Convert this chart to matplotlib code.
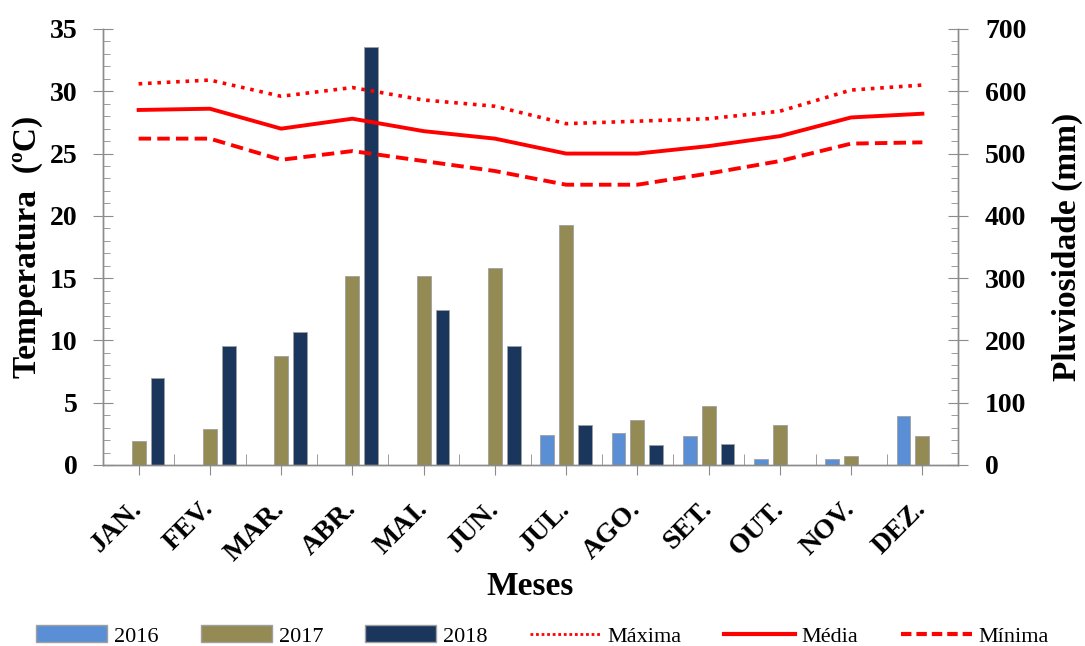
import numpy as np
import matplotlib
matplotlib.use("Agg")
import matplotlib.pyplot as plt
import matplotlib.patches as mpatches
import matplotlib.lines as mlines
from matplotlib.ticker import MultipleLocator, FixedLocator

plt.rcParams["font.family"] = ["Liberation Serif", "DejaVu Serif"]

# ── Data ──────────────────────────────────────────────────────────────────────
meses = ["JAN.", "FEV.", "MAR.", "ABR.", "MAI.", "JUN.",
         "JUL.", "AGO.", "SET.", "OUT.", "NOV.", "DEZ."]

chuva_2016 = [0, 0, 0, 0, 0, 0, 48, 52, 46, 9, 9, 78]
chuva_2017 = [39, 57, 175, 303, 303, 316, 386, 72, 95, 64, 14, 46]
chuva_2018 = [139, 191, 214, 671, 249, 191, 64, 32, 34, 0, 0, 0]

t_max = [30.6, 30.9, 29.6, 30.3, 29.3, 28.8, 27.4, 27.6, 27.8, 28.4, 30.1, 30.5]
t_med = [28.5, 28.6, 27.0, 27.8, 26.8, 26.2, 25.0, 25.0, 25.6, 26.4, 27.9, 28.2]
t_min = [26.2, 26.2, 24.5, 25.2, 24.4, 23.6, 22.5, 22.5, 23.4, 24.4, 25.8, 25.9]

C16, C17, C18 = "#5a8fd6", "#948a54", "#1b365d"
RED = "#ff0000"
GREY = "#8c8c8c"
EDGE = "#a0a0a0"

# ── Figure ────────────────────────────────────────────────────────────────────
fig = plt.figure(figsize=(10.85, 6.46), dpi=100)
ax = fig.add_axes([103 / 1085, 181 / 646, 855 / 1085, 436 / 646])
ax2 = ax.twinx()
ax2.set_zorder(ax.get_zorder() - 1)   # rainfall bars behind temperature lines
ax.patch.set_visible(False)

x = np.arange(len(meses))
w = 0.195
off = 0.265
bar_kw = dict(width=w, edgecolor=EDGE, linewidth=0.6)
ax2.bar(x - off, chuva_2016, color=C16, **bar_kw)
ax2.bar(x, chuva_2017, color=C17, **bar_kw)
ax2.bar(x + off, chuva_2018, color=C18, **bar_kw)

ax.plot(x, t_max, color=RED, lw=2.6, ls=(0, (1, 1.6)))
ax.plot(x, t_med, color=RED, lw=2.8, ls="-")
ax.plot(x, t_min, color=RED, lw=2.8, ls=(0, (3.2, 1.6)))

# axes limits and ticks
ax.set_xlim(-0.5, 11.5)
ax.set_ylim(0, 35)
ax2.set_ylim(0, 700)
ax.yaxis.set_major_locator(MultipleLocator(5))
ax.yaxis.set_minor_locator(MultipleLocator(1))
ax2.yaxis.set_major_locator(MultipleLocator(100))
ax2.yaxis.set_minor_locator(MultipleLocator(20))
ax.set_xticks(x)
ax.xaxis.set_minor_locator(FixedLocator(np.arange(0.5, 11, 1)))

for a in (ax, ax2):
    for s in a.spines.values():
        s.set_color(GREY)
        s.set_linewidth(1.0)
    a.spines["top"].set_visible(False)

ax.tick_params(axis="y", which="major", direction="inout", length=15,
               color=GREY, labelsize=20, pad=11)
ax.tick_params(axis="y", which="minor", direction="in", length=5, color=GREY)
ax2.tick_params(axis="y", which="major", direction="inout", length=15,
                color=GREY, labelsize=20, pad=12)
ax2.tick_params(axis="y", which="minor", direction="in", length=5, color=GREY)
ax.tick_params(axis="x", which="major", direction="out", length=7,
               color=GREY, labelsize=20, pad=22)
ax.tick_params(axis="x", which="minor", direction="in", length=8, color=GREY)

ax.set_xticklabels(meses, rotation=45, ha="right", va="center",
                   rotation_mode="anchor", fontweight="bold")
for lab in ax.get_yticklabels() + ax2.get_yticklabels():
    lab.set_fontweight("bold")

ax.set_ylabel("Temperatura  (ºC)", fontsize=24, fontweight="bold", labelpad=5)
ax2.set_ylabel("Pluviosidade (mm)", fontsize=24, fontweight="bold", labelpad=18)
ax.set_xlabel("Meses", fontsize=24, fontweight="bold", labelpad=4)

# ── Legend ────────────────────────────────────────────────────────────────────
handles = [
    mpatches.Patch(facecolor=C16, edgecolor=EDGE, label="2016"),
    mpatches.Patch(facecolor=C17, edgecolor=EDGE, label="2017"),
    mpatches.Patch(facecolor=C18, edgecolor=EDGE, label="2018"),
    mlines.Line2D([], [], color=RED, lw=2, ls=(0, (1, 1)), label="Máxima"),
    mlines.Line2D([], [], color=RED, lw=3, ls="-", label="Média"),
    mlines.Line2D([], [], color=RED, lw=3, ls=(0, (2.5, 1.2)), label="Mínima"),
]
fig.legend(handles=handles, loc="center", bbox_to_anchor=(0.5, 10 / 646),
           ncol=6, frameon=False, fontsize=16, handlelength=3.2,
           handleheight=0.8, columnspacing=1.9, handletextpad=0.3)

fig.savefig("out.png", dpi=100)
